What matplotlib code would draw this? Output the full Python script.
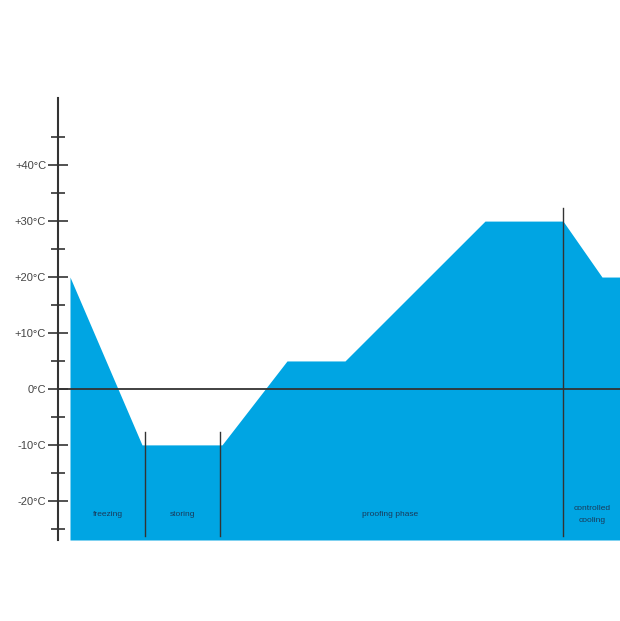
import matplotlib
matplotlib.use("Agg")
import matplotlib.pyplot as plt
from matplotlib.ticker import FixedLocator

plt.rcParams['font.family'] = ['Liberation Sans', 'DejaVu Sans']

# Temperature profile (time in arbitrary units, temperature in °C)
time_pts = [12, 84, 164, 229, 287, 427, 505, 544, 562]
temp_pts = [20, -10, -10, 5, 5, 30, 30, 20, 20]

tick_vals = [-20, -10, 0, 10, 20, 30, 40]
tick_labels = ["-20°C", "-10°C", "0°C", "+10°C", "+20°C", "+30°C", "+40°C"]
minor_vals = [-25, -15, -5, 5, 15, 25, 35, 45]

phase_bounds = [87, 162, 505]
phase_names = ["freezing", "storing", "proofing phase", "controlled\ncooling"]
phase_centers = [50, 125, 332, 534]

fig = plt.figure(figsize=(6.2, 6.21), dpi=100)
ax = fig.add_axes([58/620, (621-540)/621, 562/620, (540-98)/621])
ymin, ymax = -27.0, 52.0
ax.set_xlim(0, 562)
ax.set_ylim(ymin, ymax)

ax.fill_between(time_pts, temp_pts, ymin, color="#00a5e3", linewidth=0, zorder=1)

ax.axhline(0, color="#333333", linewidth=1.3, zorder=3)

for i, xb in enumerate(phase_bounds):
    top = -7.7 if i < 2 else 32.3
    ax.plot([xb, xb], [-26.2, top], color="#333333", linewidth=1.0, zorder=3)

for name, xc in zip(phase_names, phase_centers):
    ax.text(xc, -22.5, name, ha="center", va="center", fontsize=6,
            color="#1a3a5a", linespacing=2.0, zorder=4)

for s in ["top", "right", "bottom"]:
    ax.spines[s].set_visible(False)
ax.spines["left"].set_color("#333333")
ax.spines["left"].set_linewidth(1.5)
ax.set_xticks([])
ax.yaxis.set_major_locator(FixedLocator(tick_vals))
ax.set_yticklabels(tick_labels)
ax.yaxis.set_minor_locator(FixedLocator(minor_vals))
ax.tick_params(axis="y", which="major", direction="inout", length=15, width=1.2,
               color="#333333", labelsize=8, labelcolor="#444444", pad=1)
ax.tick_params(axis="y", which="minor", direction="inout", length=9.5, width=1.2,
               color="#333333")

fig.savefig("out.png", dpi=100)
